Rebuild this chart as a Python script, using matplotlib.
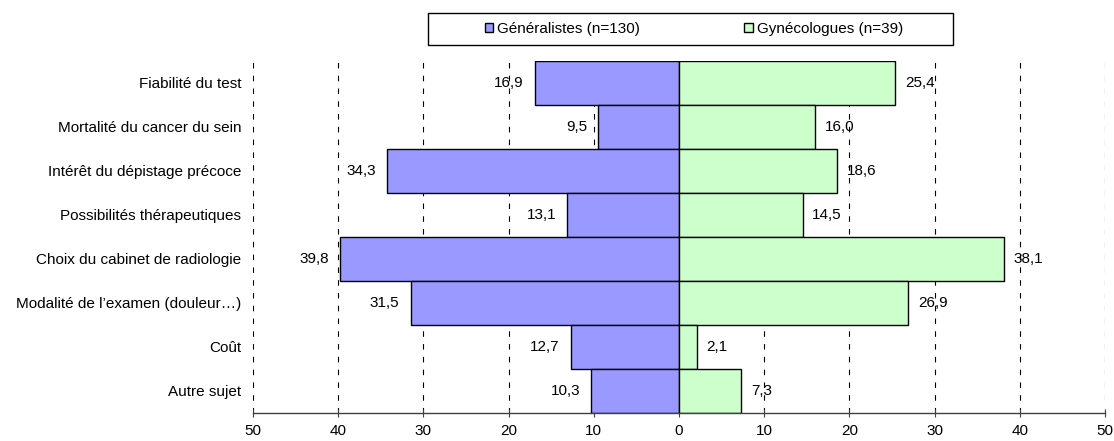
import matplotlib.pyplot as plt
from matplotlib.patches import Rectangle

plt.rcParams['font.family'] = ['Liberation Sans', 'DejaVu Sans']

# Thèmes abordés, du haut vers le bas
categories = ["Fiabilité du test", "Mortalité du cancer du sein",
              "Intérêt du dépistage précoce", "Possibilités thérapeutiques",
              "Choix du cabinet de radiologie", "Modalité de l\u2019examen (douleur\u2026)",
              "Coût", "Autre sujet"]
generalistes = [16.9, 9.5, 34.3, 13.1, 39.8, 31.5, 12.7, 10.3]
gynecologues = [25.4, 16.0, 18.6, 14.5, 38.1, 26.9, 2.1, 7.3]
ticks = [-50, -40, -30, -20, -10, 0, 10, 20, 30, 40, 50]
tick_labels = [str(abs(t)) for t in ticks]

fig = plt.figure(figsize=(11.14, 4.41), dpi=100)
ax = fig.add_axes([0.2271, 0.0635, 0.7648, 0.7982])

y = list(range(len(categories)))

# grille verticale en tirets
for t in ticks:
    ax.axvline(t, color='black', lw=0.8, dashes=(5, 6.5), zorder=0)

b1 = ax.barh(y, [-v for v in generalistes], height=1.0, color='#9999FF',
             edgecolor='black', linewidth=1.0, zorder=2,
             label='Généralistes (n=130)')
b2 = ax.barh(y, gynecologues, height=1.0, color='#CCFFCC',
             edgecolor='black', linewidth=1.0, zorder=2,
             label='Gynécologues (n=39)')

# étiquettes de valeurs
for yi, v in zip(y, generalistes):
    ax.annotate(f"{v:.1f}".replace('.', ','), (-v, yi), xytext=(-8, 0),
                textcoords='offset points', ha='right', va='center',
                fontsize=11)
for yi, v in zip(y, gynecologues):
    ax.annotate(f"{v:.1f}".replace('.', ','), (v, yi), xytext=(7, 0),
                textcoords='offset points', ha='left', va='center',
                fontsize=11)

ax.set_xlim(-50, 50)
ax.set_ylim(len(categories) - 0.5, -0.5)
ax.set_xticks(ticks)
ax.set_xticklabels(tick_labels, fontsize=11)
ax.set_yticks(y)
ax.set_yticklabels(categories, fontsize=11)
ax.tick_params(axis='y', length=0, pad=8.5)
ax.tick_params(axis='x', direction='inout', length=6, width=0.8,
               color='#404040', pad=5)
for s in ['top', 'right', 'left']:
    ax.spines[s].set_visible(False)
ax.spines['bottom'].set_color('#404040')
ax.spines['bottom'].set_linewidth(1.0)

# légende encadrée en haut
fig.patches.append(Rectangle((428 / 1114, 1 - 45 / 441), 525 / 1114, 32 / 441,
                             transform=fig.transFigure, fill=False,
                             edgecolor='black', linewidth=1.0))
fig.legend(handles=[b1, b2], loc='center', bbox_to_anchor=(694 / 1114, 1 - 29 / 441),
           ncol=2, frameon=False, fontsize=11, handlelength=0.55,
           handleheight=0.55, handletextpad=0.3, columnspacing=6.8)

fig.savefig('out.png', dpi=100)
